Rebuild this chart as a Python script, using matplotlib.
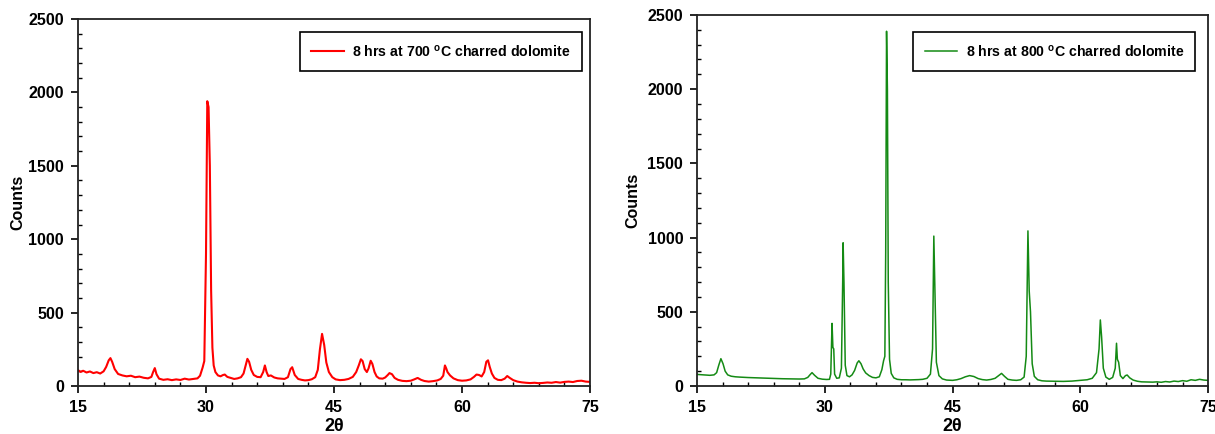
import matplotlib
matplotlib.use("Agg")
import matplotlib.pyplot as plt
from matplotlib.ticker import MultipleLocator

plt.rcParams['font.family'] = ['Liberation Sans', 'DejaVu Sans']
plt.rcParams['font.weight'] = 'bold'
plt.rcParams['mathtext.fontset'] = 'custom'
plt.rcParams['mathtext.bf'] = 'Liberation Sans:bold'
plt.rcParams['mathtext.rm'] = 'Liberation Sans:bold'

# ---- data: 8 hrs at 700 C ----
x700 = [15.0, 15.3, 15.6, 16.0, 16.4, 16.8, 17.2, 17.6, 18.0, 18.3,
        18.6, 18.8, 19.0, 19.3, 19.7, 20.2, 20.7, 21.2, 21.7, 22.2,
        22.7, 23.2, 23.6, 23.8, 24.0, 24.2, 24.5, 25.0, 25.5, 26.0,
        26.5, 27.0, 27.5, 28.0, 28.5, 29.0, 29.3, 29.6, 29.8, 30.0,
        30.15, 30.3, 30.45, 30.6, 30.75, 30.9, 31.1, 31.4, 31.7, 32.0,
        32.2, 32.5, 32.9, 33.3, 33.7, 34.1, 34.4, 34.65, 34.85, 35.05,
        35.3, 35.6, 36.0, 36.4, 36.7, 36.9, 37.1, 37.3, 37.6, 38.0,
        38.4, 38.8, 39.2, 39.6, 39.9, 40.1, 40.4, 40.8, 41.2, 41.6,
        42.0, 42.4, 42.8, 43.1, 43.35, 43.6, 43.85, 44.1, 44.4, 44.8,
        45.2, 45.7, 46.2, 46.7, 47.2, 47.6, 47.9, 48.15, 48.35, 48.6,
        48.85, 49.05, 49.3, 49.5, 49.75, 50.0, 50.3, 50.7, 51.0, 51.3,
        51.5, 51.8, 52.1, 52.5, 53.0, 53.5, 54.0, 54.4, 54.8, 55.2,
        55.6, 56.1, 56.6, 57.1, 57.5, 57.8, 58.0, 58.15, 58.3, 58.6,
        59.0, 59.5, 60.0, 60.5, 61.0, 61.4, 61.7, 62.0, 62.3, 62.6,
        62.85, 63.05, 63.25, 63.5, 63.8, 64.2, 64.6, 65.0, 65.3, 65.6,
        66.0, 66.5, 67.0, 67.5, 68.0, 68.5, 69.0, 69.5, 70.0, 70.5,
        71.0, 71.5, 72.0, 72.5, 73.0, 73.5, 74.0, 74.5, 75.0]
y700 = [108, 96, 104, 92, 99, 88, 94, 85, 100, 130,
        175, 190, 165, 115, 82, 72, 66, 70, 60, 64,
        56, 52, 62, 95, 122, 80, 50, 42, 46, 40,
        45, 41, 50, 44, 48, 52, 70, 125, 170, 900,
        1940, 1900, 1500, 650, 260, 140, 95, 72, 66, 75,
        78, 62, 55, 48, 52, 60, 85, 140, 185, 165,
        110, 75, 62, 60, 95, 140, 95, 68, 72, 58,
        52, 50, 48, 60, 115, 128, 75, 48, 42, 38,
        40, 46, 60, 110, 250, 355, 280, 160, 95, 60,
        45, 40, 42, 48, 62, 95, 140, 182, 170, 115,
        95, 120, 172, 150, 95, 65, 52, 50, 58, 75,
        88, 80, 55, 42, 35, 33, 36, 45, 55, 42,
        34, 30, 33, 38, 48, 70, 140, 120, 95, 72,
        52, 40, 36, 38, 45, 62, 78, 75, 65, 95,
        165, 175, 130, 85, 55, 42, 40, 50, 68, 55,
        40, 30, 25, 22, 20, 22, 19, 21, 24, 22,
        27, 23, 28, 30, 27, 34, 36, 30, 28]

# ---- data: 8 hrs at 800 C ----
x800 = [15.0, 15.5, 16.0, 16.5, 17.0, 17.3, 17.55, 17.8, 18.05, 18.3,
        18.6, 19.0, 19.5, 20.0, 21.0, 22.0, 23.0, 24.0, 25.0, 26.0,
        27.0, 27.6, 28.0, 28.3, 28.5, 28.8, 29.2, 29.7, 30.2, 30.55,
        30.7, 30.85, 30.95, 31.05, 31.15, 31.4, 31.7, 31.95, 32.1, 32.15,
        32.25, 32.4, 32.6, 32.9, 33.2, 33.5, 33.8, 34.0, 34.25, 34.5,
        34.8, 35.2, 35.6, 36.0, 36.4, 36.7, 36.9, 37.05, 37.15, 37.25,
        37.35, 37.45, 37.6, 37.8, 38.1, 38.5, 39.0, 39.5, 40.0, 40.5,
        41.0, 41.5, 42.0, 42.4, 42.65, 42.8, 42.95, 43.1, 43.4, 43.8,
        44.3, 45.0, 45.5, 46.0, 46.5, 47.0, 47.5, 48.0, 48.5, 49.0,
        49.5, 50.0, 50.4, 50.75, 51.1, 51.5, 52.0, 52.5, 53.0, 53.4,
        53.65, 53.85, 54.0, 54.15, 54.35, 54.6, 55.0, 55.5, 56.0, 57.0,
        58.0, 59.0, 60.0, 60.8, 61.4, 61.9, 62.2, 62.35, 62.5, 62.7,
        63.0, 63.4, 63.8, 64.1, 64.25, 64.35, 64.5, 64.7, 65.0, 65.3,
        65.5, 65.8, 66.2, 66.7, 67.2, 67.8, 68.5, 69.0, 69.5, 70.0,
        70.5, 71.0, 71.5, 72.0, 72.5, 73.0, 73.5, 74.0, 74.5, 75.0]
y800 = [78, 76, 74, 72, 75, 90, 140, 184, 150, 100,
        75, 66, 62, 60, 57, 55, 53, 51, 49, 48,
        47, 48, 58, 78, 90, 72, 52, 46, 44, 45,
        80, 422, 260, 250, 80, 52, 55, 120, 700, 965,
        700, 140, 70, 62, 75, 105, 155, 170, 150, 115,
        88, 70, 58, 55, 62, 110, 170, 200, 900, 2390,
        2000, 700, 180, 85, 55, 45, 42, 42, 41, 42,
        43, 45, 52, 80, 250, 1010, 600, 160, 70, 48,
        40, 38, 42, 50, 62, 70, 64, 50, 43, 40,
        44, 52, 70, 85, 65, 45, 40, 38, 42, 60,
        200, 1045, 640, 500, 150, 65, 42, 35, 33, 32,
        31, 33, 38, 42, 52, 90, 250, 445, 330, 120,
        60, 45, 58, 120, 288, 180, 160, 70, 50, 70,
        74, 55, 40, 32, 28, 27, 26, 28, 25, 30,
        27, 33, 30, 36, 32, 42, 38, 45, 40, 38]

labels = ["8 hrs at 700 $^{\\mathbf{o}}$C charred dolomite",
          "8 hrs at 800 $^{\\mathbf{o}}$C charred dolomite"]
xticks = [15, 30, 45, 60, 75]
yticks = [0, 500, 1000, 1500, 2000, 2500]

fig = plt.figure(figsize=(12.15, 4.34), dpi=100)
ax1 = fig.add_axes([0.0642, 0.1106, 0.4214, 0.8456])
ax2 = fig.add_axes([0.5737, 0.1106, 0.4206, 0.855])

series = [(ax1, x700, y700, '#ff0000', labels[0], (0.984, 0.965), 1.5, 2),
          (ax2, x800, y800, '#148a14', labels[1], (0.975, 0.954), 1.1, 5)]

for ax, xs, ys, col, lab, anchor, lw, ypad in series:
    ax.plot(xs, ys, color=col, lw=lw, label=lab)
    ax.set_xlim(15, 75)
    ax.set_ylim(0, 2500)
    ax.set_xticks(xticks)
    ax.set_yticks(yticks)
    ax.xaxis.set_minor_locator(MultipleLocator(3))
    ax.yaxis.set_minor_locator(MultipleLocator(100))
    ax.tick_params(which='major', direction='out', length=5, width=1.2,
                   labelsize=11.5, pad=5)
    ax.tick_params(which='minor', direction='in', length=3, width=1.0)
    for lbl in ax.get_xticklabels() + ax.get_yticklabels():
        lbl.set_fontweight('bold')
    for sp in ax.spines.values():
        sp.set_linewidth(1.3)
        sp.set_color('#222222')
    ax.set_xlabel('2θ', fontsize=13, fontweight='bold', labelpad=2)
    ax.set_ylabel('Counts', fontsize=11.5, fontweight='bold', labelpad=ypad)
    leg = ax.legend(loc='upper right', bbox_to_anchor=anchor, borderaxespad=0,
                    fancybox=False, edgecolor='black', framealpha=1,
                    prop={'weight': 'bold', 'size': 10.2}, handlelength=2.3,
                    borderpad=0.8, handletextpad=0.6)
    leg.get_frame().set_linewidth(1.2)

fig.savefig('out.png', dpi=100)
